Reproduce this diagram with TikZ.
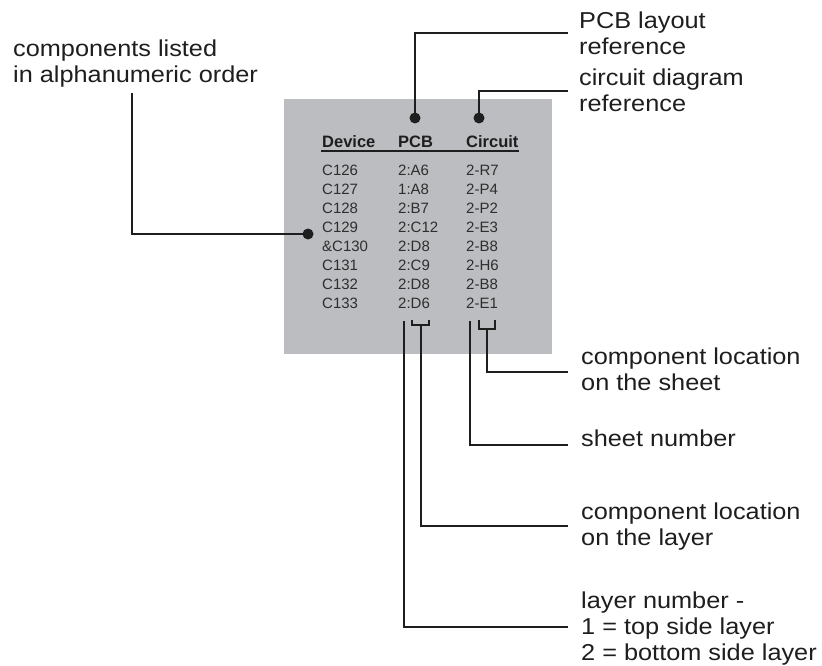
\documentclass[tikz,border=0pt]{standalone}
\usepackage{fontspec}
\setmainfont{Liberation Sans}
\newfontfamily\labfont[FakeStretch=1.1]{Liberation Sans}
\usetikzlibrary{calc}
\definecolor{ink}{HTML}{1E1E1E}
\definecolor{tabink}{HTML}{2E2E2E}
\definecolor{panel}{HTML}{BCBDC0}
\begin{document}
\begin{tikzpicture}[x=1pt,y=-1pt,
  lab/.style={inner sep=0pt,anchor=base west,align=left,text=ink,font={\labfont\fontsize{23}{26}\selectfont}},
  col/.style={inner sep=0pt,anchor=base west,align=left,text=tabink,font={\fontsize{15}{19}\selectfont}},
  head/.style={inner sep=0pt,anchor=base west,text=ink,font={\bfseries\fontsize{16.5}{19}\selectfont}},
  conn/.style={draw=ink,line width=2.8pt},
  brk/.style={draw=ink,line width=2.4pt},
  dot/.style={circle,fill=ink,inner sep=0pt,minimum size=11pt}]
\useasboundingbox (0,0) rectangle (822,666);
% panel
\fill[panel] (284,99) rectangle (552,354);
% headers
\node[head] (hdev) at (322,147) {Device};
\node[head] (hpcb) at (398,147) {PCB};
\node[head] (hcir) at (466,147) {Circuit};
\draw[draw=ink,line width=1.5pt] (321,151) -- (519,151);
% columns (anchored at the baseline of the last line)
\node[col] (cdev) at (322,308) {C126\\C127\\C128\\C129\\\&C130\\C131\\C132\\C133};
\node[col] (cpcb) at (398,308) {2:A6\\1:A8\\2:B7\\2:C12\\2:D8\\2:C9\\2:D8\\2:D6};
\node[col] (ccir) at (466,308) {2-R7\\2-P4\\2-P2\\2-E3\\2-B8\\2-H6\\2-B8\\2-E1};
% dots
\node[dot] (dpcb) at (415,118) {};
\node[dot] (dcir) at (479,118) {};
\node[dot] (ddev) at (308,234) {};
% labels (anchored at the baseline of the last line)
\node[lab] (lcomp) at (13,83) {components listed\\in alphanumeric order};
\node[lab] (lpcb) at (579,55) {PCB layout\\reference};
\node[lab] (lcir) at (579,112) {circuit diagram\\reference};
\node[lab] (lsloc) at (581,390) {component location\\on the sheet};
\node[lab] (lsnum) at (581,446) {sheet number};
\node[lab] (llloc) at (581,545) {component location\\on the layer};
\node[lab] (llnum) at (581,660) {layer number -\\1 = top side layer\\2 = bottom side layer};
% connector end points
\coordinate (ecomp) at (132,93);
\coordinate (epcb) at (568,33);
\coordinate (ecir) at (568,91);
\coordinate (esloc) at (568,372);
\coordinate (esnum) at (568,445);
\coordinate (elloc) at (568,526);
\coordinate (ellnum) at (568,627);
% brackets
\coordinate (bpcb) at (421,325);
\coordinate (bcir) at (487,329);
\coordinate (lnum) at (404,321);
\coordinate (snum) at (470,321);
\draw[brk] (412,320) -- (412,325) -- (429,325) -- (429,320);
\draw[brk] (479,320) -- (479,329) -- (495,329) -- (495,320);
% connectors
\draw[conn] (ddev.center) -| (ecomp);
\draw[conn] (dpcb.center) |- (epcb);
\draw[conn] (dcir.center) |- (ecir);
\draw[conn] (bcir) |- (esloc);
\draw[conn] (snum) |- (esnum);
\draw[conn] (bpcb) |- (elloc);
\draw[conn] (lnum) |- (ellnum);
\end{tikzpicture}
\end{document}
